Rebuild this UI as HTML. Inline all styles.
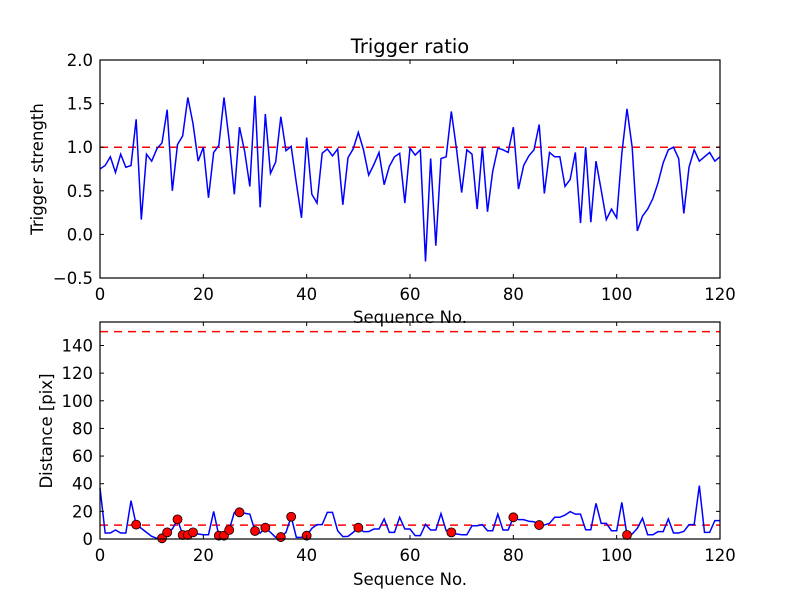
<!DOCTYPE html>
<html><head><meta charset="utf-8"><style>
body{margin:0;background:#fff;}
svg text{font-family:"DejaVu Sans","Liberation Sans",sans-serif;fill:#000;}
</style></head><body>
<svg id="c" width="800" height="600" xmlns="http://www.w3.org/2000/svg">
<rect width="800" height="600" fill="#fff"/>
</svg>
<script>
const trigger=[0.75,0.79,0.89,0.71,0.92,0.77,0.79,1.32,0.17,0.92,0.84,0.98,1.05,1.43,0.50,1.03,1.13,1.57,1.27,0.84,1.0,0.42,0.94,1.02,1.57,1.08,0.46,1.23,0.95,0.55,1.59,0.31,1.38,0.70,0.83,1.35,0.96,1.01,0.59,0.19,1.11,0.46,0.36,0.93,0.98,0.90,0.98,0.34,0.88,0.98,1.17,0.97,0.68,0.80,0.94,0.57,0.78,0.89,0.93,0.36,0.99,0.91,0.97,-0.31,0.87,-0.13,0.87,0.89,1.41,0.98,0.48,0.97,0.92,0.29,1.0,0.26,0.72,0.99,0.97,0.94,1.23,0.52,0.79,0.90,0.97,1.26,0.47,0.94,0.89,0.89,0.55,0.63,0.94,0.13,1.0,0.14,0.84,0.51,0.17,0.29,0.19,0.93,1.44,1.0,0.04,0.21,0.29,0.41,0.59,0.82,0.97,1.0,0.87,0.24,0.77,0.97,0.84,0.89,0.94,0.84,0.89];
const distance=[37,4.3,4.3,6.5,4.3,4.3,27.7,10.4,7.7,4.8,1.9,0.5,0.5,4.8,7.2,14.2,2.9,2.9,4.8,3.6,3.1,3.1,20,2.4,2.4,6.5,19.3,19.3,18.6,18,5.8,4.3,8.2,4.8,1.2,1.4,4.8,16.1,1.2,1.2,2.4,7.7,10.4,10.4,19.3,19.3,6,1.7,1.9,4.8,8.2,5.3,5.3,7.2,7.2,14.5,4.8,4.8,15.7,7.2,7.2,2.4,2.4,10.6,6.5,6.5,18.3,6,4.8,3.6,3.1,3.1,9.6,9.6,10.4,6,6,18,6.5,6.5,15.7,14,14,12.8,12.5,10.1,10.1,11.3,15.7,15.7,17.3,19.8,18,18,6.7,6.7,25.8,11.3,11.3,6,6,26.5,2.9,3.6,7.7,15,3.1,3.1,5.3,5.3,14.5,4.3,4.3,5.5,10.4,10.4,38.6,4.8,4.8,13.3,13.3];
const outliers=[7,12,13,15,16,17,18,23,24,25,27,30,32,35,37,40,50,68,80,85,102];
const xTicks=[0,20,40,60,80,100,120];
const topYTicks=[-0.5,0,0.5,1.0,1.5,2.0];
const topYLabels=["\u22120.5","0.0","0.5","1.0","1.5","2.0"];
const botYTicks=[0,20,40,60,80,100,120,140];
const triggerThreshold=1.0, distThreshold=10, distLimit=150;

const NS="http://www.w3.org/2000/svg";
const svg=document.getElementById('c');
function mk(tag,attrs,parent){const e=document.createElementNS(NS,tag);for(const k in attrs)e.setAttribute(k,attrs[k]);(parent||svg).appendChild(e);return e;}
const L=100,R=720;
const x=v=>L+(v-0)/120*(R-L);
const T={top:60,bot:278,min:-0.5,max:2.0};
const B={top:322,bot:539,min:0,max:157};
const yT=v=>T.bot-(v-T.min)/(T.max-T.min)*(T.bot-T.top);
const yB=v=>B.bot-(v-B.min)/(B.max-B.min)*(B.bot-B.top);

function axes(P,yf,yt,ylabels,name){
  const g=mk('g',{});
  
  
  xTicks.forEach(t=>{
    const X=x(t);
    mk('line',{x1:X,x2:X,y1:P.bot,y2:P.bot-4,stroke:'#000'},g);
    mk('line',{x1:X,x2:X,y1:P.top,y2:P.top+4,stroke:'#000'},g);
    const tx=mk('text',{x:X,y:P.bot+22,'text-anchor':'middle','font-size':16.5},g);
    tx.textContent=t;
    
    
  });
  yt.forEach((t,i)=>{
    const Y=yf(t);
    mk('line',{x1:L,x2:L+4,y1:Y,y2:Y,stroke:'#000'},g);
    mk('line',{x1:R,x2:R-4,y1:Y,y2:Y,stroke:'#000'},g);
    const tx=mk('text',{x:L-7,y:Y+6,'text-anchor':'end','font-size':16.5},g);
    tx.textContent=ylabels[i];
    
    
  });
}
function frame(P){mk('rect',{x:L,y:P.top,width:R-L,height:P.bot-P.top,fill:'none',stroke:'#000','stroke-width':1.2});}

let th=mk('line',{x1:L,x2:R,y1:yT(triggerThreshold),y2:yT(triggerThreshold),stroke:'#f00','stroke-dasharray':'8,6','stroke-width':1.5});


let p1=mk('polyline',{points:trigger.map((v,i)=>x(i)+','+yT(v)).join(' '),fill:'none',stroke:'#00f','stroke-width':1.5});


axes(T,yT,topYTicks,topYLabels,'top');
frame(T);

let d1=mk('line',{x1:L,x2:R,y1:yB(distThreshold),y2:yB(distThreshold),stroke:'#f00','stroke-dasharray':'8,6','stroke-width':1.5});


let d2=mk('line',{x1:L,x2:R,y1:yB(distLimit),y2:yB(distLimit),stroke:'#f00','stroke-dasharray':'8,6','stroke-width':1.5});


let p2=mk('polyline',{points:distance.map((v,i)=>x(i)+','+yB(v)).join(' '),fill:'none',stroke:'#00f','stroke-width':1.5});


outliers.forEach(i=>{
  const c=mk('circle',{cx:x(i),cy:yB(distance[i]),r:4.5,fill:'#f00',stroke:'#000','stroke-width':0.8});
  
  
});
axes(B,yB,botYTicks,botYTicks.map(String),'bottom');
frame(B);

function label(txt,attrs,name){const t=mk('text',attrs);t.textContent=txt;return t;}
label('Trigger ratio',{x:410,y:53,'text-anchor':'middle','font-size':19.5},'chart-title');
label('Sequence No.',{x:410,y:323,'text-anchor':'middle','font-size':16.5},'top-x-axis-title');
label('Sequence No.',{x:410,y:585,'text-anchor':'middle','font-size':16.5},'bottom-x-axis-title');
label('Trigger strength',{x:0,y:0,'text-anchor':'middle','font-size':16.5,transform:'translate(43,169) rotate(-90)'},'top-y-axis-title');
label('Distance [pix]',{x:0,y:0,'text-anchor':'middle','font-size':16.5,transform:'translate(52,431) rotate(-90)'},'bottom-y-axis-title');
</script>
</body></html>
